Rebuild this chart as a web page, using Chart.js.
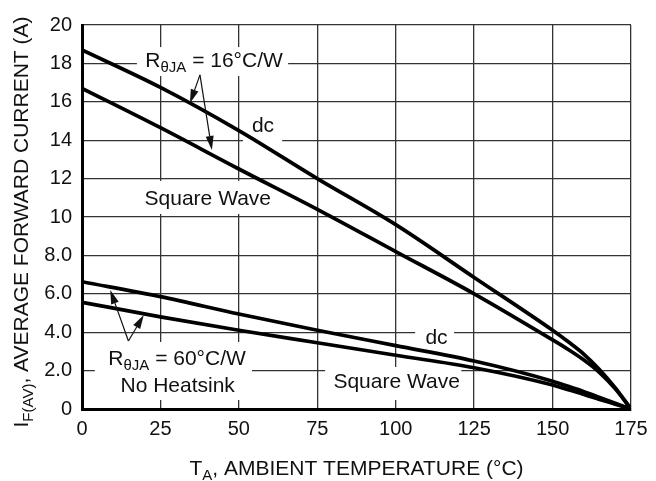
<!DOCTYPE html>
<html>
<head>
<meta charset="utf-8">
<script src="https://cdn.jsdelivr.net/npm/chart.js@4.4.0/dist/chart.umd.min.js"></script>
<style>
  body { margin: 0; background: #fff; }
  #wrap { width: 656px; height: 481px; }
</style>
</head>
<body>
<div id="wrap"><canvas id="chart" width="656" height="481"></canvas></div>
<script>
// values
const tempC = [0, 25, 50, 75, 100, 125, 150, 155, 160, 165, 170, 175];
const dc16 = [18.7, 16.75, 14.5, 12.0, 9.6, 6.85, 4.1, 3.5, 2.85, 2.05, 1.1, 0];
const sq16 = [16.7, 14.65, 12.5, 10.4, 8.2, 6.0, 3.6, 3.1, 2.55, 1.9, 1.05, 0];
const dc60 = [6.63, 5.85, 4.95, 4.1, 3.3, 2.5, 1.45, 1.18, 0.9, 0.6, 0.3, 0];
const sq60 = [5.56, 4.8, 4.1, 3.45, 2.8, 2.15, 1.25, 1.0, 0.76, 0.5, 0.25, 0];

const xTickLabels = ["0", "25", "50", "75", "100", "125", "150", "175"];
const yTickLabels = ["0", "2.0", "4.0", "6.0", "8.0", "10", "12", "14", "16", "18", "20"];

const FONT = "'Liberation Sans', Arial, Helvetica, sans-serif";

function toPoints(ys) {
  return tempC.map((t, i) => ({ x: t, y: ys[i] }));
}

// draws a run of text pieces, some of them as subscripts, centred on cx
function drawRich(ctx, parts, cx, baseY, size) {
  const subSize = Math.round(size * 0.7);
  let total = 0;
  parts.forEach(([txt, sub]) => {
    ctx.font = (sub ? subSize : size) + "px " + FONT;
    total += ctx.measureText(txt).width;
  });
  let x = cx - total / 2;
  ctx.textAlign = "left";
  ctx.textBaseline = "alphabetic";
  parts.forEach(([txt, sub]) => {
    ctx.font = (sub ? subSize : size) + "px " + FONT;
    ctx.fillText(txt, x, sub ? baseY + size * 0.25 : baseY);
    x += ctx.measureText(txt).width;
  });
}

// white patches where the labels break the grid (data units)
const boxes = [
  [17.5, 65.7, 17.34, 18.85],
  [51.3, 63.8, 13.75, 15.42],
  [18.5, 61.5, 10.16, 11.88],
  [4.1, 54.2, 0.47, 3.49],
  [106.2, 118.6, 3.28, 4.53],
  [77.5, 120.9, 0.47, 2.19],
];

const labels = [
  { x: 42.1, y: 17.81, parts: [["R"], ["θJA", true], [" = 16°C/W"]] },
  { x: 57.7, y: 14.44, parts: [["dc"]] },
  { x: 40.1, y: 10.65, parts: [["Square Wave"]] },
  { x: 30.3, y: 2.29, parts: [["R"], ["θJA", true], [" = 60°C/W"]] },
  { x: 30.5, y: 0.9, parts: [["No Heatsink"]] },
  { x: 113.0, y: 3.39, parts: [["dc"]] },
  { x: 100.3, y: 1.08, parts: [["Square Wave"]] },
];

const arrows = [
  [37.6, 17.4, 34.4, 15.92],
  [37.6, 17.4, 41.4, 13.49],
  [14.8, 3.54, 9.0, 6.2],
  [14.8, 3.54, 19.7, 4.9],
];

const annotations = {
  id: "annotations",
  beforeDatasetsDraw(chart) {
    const { ctx, scales: { x, y } } = chart;
    ctx.save();
    ctx.fillStyle = "#fff";
    boxes.forEach(([x0, x1, y0, y1]) => {
      const px0 = x.getPixelForValue(x0), px1 = x.getPixelForValue(x1);
      const py0 = y.getPixelForValue(y1), py1 = y.getPixelForValue(y0);
      ctx.fillRect(px0, py0, px1 - px0, py1 - py0);
    });
    ctx.restore();
  },
  afterDatasetsDraw(chart) {
    const { ctx, scales: { x, y } } = chart;
    ctx.save();
    ctx.fillStyle = "#111";
    labels.forEach((l) => {
      drawRich(ctx, l.parts, x.getPixelForValue(l.x), y.getPixelForValue(l.y), 21);
    });
    ctx.strokeStyle = "#111";
    ctx.lineWidth = 1.2;
    arrows.forEach(([x0, y0, x1, y1]) => {
      const ax = x.getPixelForValue(x0), ay = y.getPixelForValue(y0);
      const bx = x.getPixelForValue(x1), by = y.getPixelForValue(y1);
      const ang = Math.atan2(by - ay, bx - ax);
      const len = 14, half = 4;
      const baseX = bx - len * Math.cos(ang), baseY = by - len * Math.sin(ang);
      ctx.beginPath();
      ctx.moveTo(ax, ay);
      ctx.lineTo(baseX, baseY);
      ctx.stroke();
      ctx.beginPath();
      ctx.moveTo(bx, by);
      ctx.lineTo(baseX + half * Math.sin(ang), baseY - half * Math.cos(ang));
      ctx.lineTo(baseX - half * Math.sin(ang), baseY + half * Math.cos(ang));
      ctx.closePath();
      ctx.fill();
    });
    ctx.restore();
  },
  afterDraw(chart) {
    const { ctx, chartArea } = chart;
    ctx.save();
    ctx.fillStyle = "#111";
    drawRich(ctx, [["T"], ["A", true], [", AMBIENT TEMPERATURE (°C)"]],
      (chartArea.left + chartArea.right) / 2, 475, 21);
    ctx.translate(28, 222);
    ctx.rotate(-Math.PI / 2);
    drawRich(ctx, [["I"], ["F(AV)", true], [", AVERAGE FORWARD CURRENT (A)"]], 0, 0, 21);
    ctx.restore();
  },
};

function line(data) {
  return {
    data: toPoints(data),
    borderColor: "#000",
    borderWidth: 3.7,
    pointRadius: 0,
    fill: false,
    cubicInterpolationMode: "monotone",
  };
}

const ctx = document.getElementById("chart").getContext("2d");
new Chart(ctx, {
  type: "line",
  data: {
    datasets: [line(dc16), line(sq16), line(dc60), line(sq60)],
  },
  options: {
    responsive: false,
    animation: false,
    events: [],
    layout: { padding: { top: 25, right: 25, left: 0, bottom: 0 } },
    plugins: { legend: { display: false }, tooltip: { enabled: false } },
    scales: {
      x: {
        type: "linear",
        min: 0,
        max: 175,
        afterFit: (s) => { s.height = 72; },
        afterBuildTicks: (s) => { s.ticks = xTickLabels.map((t) => ({ value: Number(t) })); },
        ticks: {
          callback: (v) => xTickLabels[v / 25],
          color: "#111",
          padding: 8,
          maxRotation: 0,
          font: { family: FONT, size: 20 },
        },
        grid: { color: "#333", lineWidth: 1.3, drawTicks: false },
        border: { color: "#000", width: 3 },
      },
      y: {
        min: 0,
        max: 20,
        afterFit: (s) => { s.width = 82; },
        ticks: {
          stepSize: 2,
          callback: (v) => yTickLabels[Math.round(v / 2)],
          color: "#111",
          padding: 10,
          font: { family: FONT, size: 20 },
        },
        grid: { color: "#333", lineWidth: 1.3, drawTicks: false },
        border: { color: "#000", width: 3 },
      },
    },
  },
  plugins: [annotations],
});
</script>
</body>
</html>
